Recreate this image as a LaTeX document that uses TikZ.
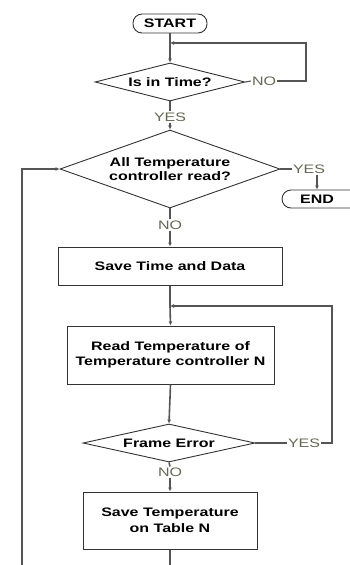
\documentclass[tikz,border=0pt]{standalone}
\usepackage{fontspec}
\setmainfont{Liberation Sans}
\newfontfamily\labbold{Liberation Sans Bold}[FakeStretch=1.3]
\newfontfamily\labreg{Liberation Sans}[FakeStretch=1.3]
\usetikzlibrary{shapes.geometric,arrows.meta}
\definecolor{lineg}{HTML}{555555}
\definecolor{boxg}{HTML}{333333}
\definecolor{ansg}{HTML}{666655}
\begin{document}
\begin{tikzpicture}[x=1pt,y=-1pt,
  txt/.style={font=\labbold\fontsize{12.3}{14.5}\selectfont, text=black, align=center, inner sep=0pt},
  ans/.style={font=\labreg\fontsize{12.3}{14.5}\selectfont, text=ansg, inner sep=1pt},
  procbox/.style={draw=boxg, line width=1pt, rectangle, inner sep=0pt},
  decbox/.style={draw=boxg, line width=0.9pt, diamond, inner sep=0pt},
  termbox/.style={draw=boxg, line width=0.9pt, rectangle, rounded corners=9pt, inner sep=0pt},
  conn/.style={draw=lineg, line width=1.6pt},
  loopc/.style={draw=lineg, line width=1.1pt},
  arr/.style={-{Latex[length=4pt,width=4pt]}}]
\useasboundingbox (0,0) rectangle (349,565);
\fill[white] (0,0) rectangle (349,565);

% terminals
\node[termbox, minimum width=74pt, minimum height=19pt] (start) at (170,23.5) {};
\node[txt] (starttxt) at (start.center) {START};
\node[termbox, minimum width=80pt, minimum height=18pt] (end) at (322,199) {};
\node[txt] (endtxt) at (317,199) {END};

% decisions
\node[decbox, minimum width=150pt, minimum height=38pt] (d1) at (170,82) {};
\node[txt] (d1t) at (d1.center) {Is in Time?};
\node[decbox, minimum width=220pt, minimum height=78pt] (d2) at (170,169) {};
\node[txt] (d2t) at (d2.center) {All Temperature\\controller read?};
\node[decbox, minimum width=172pt, minimum height=38pt] (d3) at (169,443) {};
\node[txt] (d3t) at (d3.center) {Frame Error};

% processes
\node[procbox, minimum width=224pt, minimum height=38pt] (b1) at (170,266) {};
\node[txt] (b1t) at (b1.center) {Save Time and Data};
\node[procbox, minimum width=207pt, minimum height=58pt] (b2) at (170.5,355) {};
\node[txt] (b2t) at (b2.center) {Read Temperature of\\[1pt]Temperature controller N};
\node[procbox, minimum width=174pt, minimum height=57pt] (b3) at (170,520.5) {};
\node[txt] (b3t) at (b3.center) {Save Temperature\\[1pt]on Table N};

% answer labels
\node[ans] (no1) at (264,81) {NO};
\node[ans] (yes1) at (170,117) {YES};
\node[ans] (yes2) at (309,169) {YES};
\node[ans] (no2) at (170,225) {NO};
\node[ans] (yes3) at (304,443) {YES};
\node[ans] (no3) at (170,472) {NO};

% helper coordinates
\coordinate (j1) at (170,43);
\coordinate (r1a) at (306,81);
\coordinate (r1b) at (306,43);
\coordinate (j2) at (170,306);
\coordinate (r2a) at (332,443);
\coordinate (r2b) at (332,306);
\coordinate (bot) at (170,566);
\coordinate (lb) at (22,566);
\coordinate (lt) at (22,169);

% connectors
\draw[conn] (start.south) -- (j1);
\draw[conn, arr] (j1) -- (d1.north);
\draw[loopc] (d1.east) -- (no1.west);
\draw[loopc, arr] (no1.east) -- (r1a) -- (r1b) -- (j1);
\draw[conn] (d1.south) -- (yes1.north);
\draw[conn, arr] (yes1.south) -- (d2.north);
\draw[loopc] (d2.east) -- (yes2.west);
\draw[loopc, arr] (yes2.south -| endtxt) -- (end.north -| endtxt);
\draw[conn] (d2.south) -- (no2.north);
\draw[conn, arr] (no2.south) -- (b1.north);
\draw[conn] (b1.south) -- (j2);
\draw[conn, arr] (j2) -- (b2.north);
\draw[loopc] (d3.east) -- (yes3.west);
\draw[loopc, arr] (yes3.east) -- (r2a) -- (r2b) -- (j2);
\draw[conn, arr] (b2.south) -- (d3.north);
\draw[conn] (d3.south) -- (no3.north);
\draw[conn, arr] (no3.south) -- (b3.north);
\draw[conn] (b3.south) -- (bot);
\draw[conn, arr] (lb) -- (lt) -- (d2.west);
\end{tikzpicture}
\end{document}
